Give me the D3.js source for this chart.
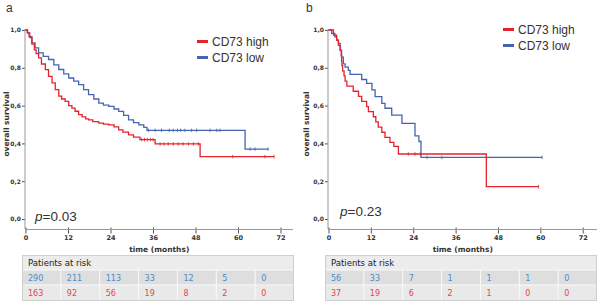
<!DOCTYPE html>
<html>
<head>
<meta charset="utf-8">
<script src="https://cdn.jsdelivr.net/npm/d3@7"></script>
<style>
  body { margin: 0; background: #fff; }
  svg { display: block; }
</style>
</head>
<body>
<script>
var width = 598
var height = 303

var red = "#e5222b"
var blue = "#4466b0"
var redText = "#e8434b"
var blueText = "#4a8cc6"

var monthTicks = [0, 12, 24, 36, 48, 60, 72]
var survivalTicks = [0, 0.2, 0.4, 0.6, 0.8, 1.0]
var groups = ["CD73 high", "CD73 low"]

// panel a - survival steps [month, survival]
var aHigh = [[0,1],[0.5,0.985],[1,0.965],[1.8,0.925],[2.5,0.895],[3,0.875],[3.7,0.853],[4.5,0.82],[5.6,0.79],[6.5,0.755],
    [7.5,0.72],[8.4,0.685],[9.4,0.65],[10.2,0.635],[11.2,0.622],[12.2,0.6],[13.1,0.587],[14,0.57],[15,0.552],[16,0.54],
    [17,0.53],[17.8,0.525],[19,0.515],[20.7,0.507],[22,0.502],[23.5,0.498],[25,0.487],[26.3,0.472],[27.5,0.46],[29.1,0.445],
    [30.5,0.433],[32.3,0.42],[36.6,0.397],[49.3,0.33]]
var aHighEnd = 70.2
var aHighCensor = [32.8, 33.6, 34.4, 35.3, 36, 38, 39.1, 40.3, 41.7, 43.1, 44.5, 46, 47.4, 48.8, 58.5, 67.6, 70.2]

var aLow = [[0,1],[0.6,0.985],[1.2,0.96],[1.8,0.932],[2.7,0.905],[3.7,0.879],[5,0.86],[6.5,0.844],[8,0.815],[9.4,0.791],
    [10.8,0.768],[12.2,0.746],[13.6,0.73],[15,0.711],[16.4,0.685],[17.8,0.658],[19.3,0.635],[20.7,0.613],[22,0.603],[23.5,0.596],
    [25,0.582],[26.3,0.569],[27.7,0.548],[29.1,0.525],[30.5,0.51],[32,0.498],[33.4,0.485],[34.3,0.469],[62,0.37]]
var aLowEnd = 68.6
var aLowCensor = [34.7, 36.6, 38.4, 40.6, 41.7, 42.9, 43.8, 45, 46.9, 48.3, 52.1, 54, 54.9, 63.4, 64.8, 68.5]

// panel b
var bHigh = [[0,1],[1.4,0.973],[2.3,0.946],[2.8,0.919],[3.3,0.892],[3.6,0.865],[3.7,0.838],[3.8,0.811],[4,0.784],[4.4,0.757],
    [4.7,0.73],[5.2,0.703],[7,0.676],[8.5,0.649],[9.4,0.622],[10.8,0.595],[11.3,0.568],[12.7,0.541],[13.4,0.514],[14.1,0.486],
    [15.1,0.459],[16,0.432],[17.4,0.405],[18.5,0.384],[19.8,0.344],[44.7,0.171]]
var bHighEnd = 59.5
var bHighCensor = [22.6, 24.5, 26, 59.5]

var bLow = [[0,1],[0.9,0.982],[1.8,0.964],[2.3,0.946],[2.8,0.929],[3.3,0.893],[3.7,0.857],[4.2,0.821],[4.7,0.804],[5.6,0.786],
    [6.1,0.765],[9.4,0.738],[10.8,0.718],[12.3,0.683],[13.2,0.647],[15.1,0.612],[16,0.586],[17.9,0.55],[20.8,0.506],[24.5,0.44],
    [25.6,0.41],[26.2,0.326]]
var bLowEnd = 60.5
var bLowCensor = [27.9, 32.1, 60.5]

// patients at risk at 0,12,...,72
var aLowRisk = [290, 211, 113, 33, 12, 5, 0]
var aHighRisk = [163, 92, 56, 19, 8, 2, 0]
var bLowRisk = [56, 33, 7, 1, 1, 1, 0]
var bHighRisk = [37, 19, 6, 2, 1, 0, 0]

var svg = d3.select("body")
    .append("svg")
    .attr("width", width)
    .attr("height", height)

var panels = [
    { label: "a", left: 0, x0: 25.5, x72: 280.5, axisEnd: 293, p: "=0.03", pX: 35, pY: 221,
      legX: 197, legY: 41.5, high: aHigh, highEnd: aHighEnd, highC: aHighCensor,
      low: aLow, lowEnd: aLowEnd, lowC: aLowCensor, lowRisk: aLowRisk, highRisk: aHighRisk,
      tableX: 22, tableW: 272 },
    { label: "b", left: 300, x0: 328.5, x72: 582.7, axisEnd: 597, p: "=0.23", pX: 340, pY: 216,
      legX: 503, legY: 29.5, high: bHigh, highEnd: bHighEnd, highC: bHighCensor,
      low: bLow, lowEnd: bLowEnd, lowC: bLowCensor, lowRisk: bLowRisk, highRisk: bHighRisk,
      tableX: 325, tableW: 272 }
]

panels.forEach(drawPanel)

function survivalAt(steps, t) {
    var s = 1
    steps.forEach(function (d) { if (d[0] <= t) s = d[1] })
    return s
}

function drawPanel(p) {
    var g = svg.append("g")
    var axisY = 229
    var yTop = 29

    var xScale = d3.scaleLinear().domain([0, 72]).range([p.x0, p.x72])
    var yScale = d3.scaleLinear().domain([0, 1]).range([219, 30])

    g.append("text")
        .attr("x", p.left + 6)
        .attr("y", 12)
        .style("font-family", "Liberation Sans, Arial, sans-serif")
        .style("font-size", "12px")
        .attr("fill", "#333")
        .text(p.label)

    // y axis
    var yAxis = g.append("g")
        .attr("transform", `translate(${p.x0 - 0.5},0)`)
        .call(d3.axisLeft(yScale)
            .tickValues(survivalTicks)
            .tickSize(3)
            .tickPadding(1)
            .tickFormat(function (d) { return d3.format(".1f")(d).replace(".", ",") }))
    yAxis.select(".domain").remove()
    yAxis.selectAll("line").attr("stroke", "#555")
    yAxis.selectAll("text")
        .style("font-family", "DejaVu Sans, Verdana, sans-serif")
        .style("font-size", "6px")
        .style("font-weight", "bold")
        .attr("fill", "#333")

    g.append("line")
        .attr("x1", p.x0 - 0.5).attr("x2", p.x0 - 0.5)
        .attr("y1", yTop).attr("y2", axisY)
        .attr("stroke", "#999")

    g.append("text")
        .attr("transform", `translate(${p.left + 9},124) rotate(-90)`)
        .attr("text-anchor", "middle")
        .style("font-family", "DejaVu Sans, Verdana, sans-serif")
        .style("font-size", "7.5px")
        .style("font-weight", "bold")
        .attr("fill", "#333")
        .text("overall survival")

    // x axis
    var xAxis = g.append("g")
        .attr("transform", `translate(0,${axisY + 0.5})`)
        .call(d3.axisBottom(xScale)
            .tickValues(monthTicks)
            .tickSize(4)
            .tickPadding(2))
    xAxis.select(".domain").remove()
    xAxis.selectAll("line").attr("stroke", "#555").attr("y1", -2)
    xAxis.selectAll("text")
        .style("font-family", "DejaVu Sans, Verdana, sans-serif")
        .style("font-size", "6.5px")
        .style("font-weight", "bold")
        .attr("fill", "#333")

    g.append("line")
        .attr("x1", p.x0 - 0.5).attr("x2", p.axisEnd)
        .attr("y1", axisY + 0.5).attr("y2", axisY + 0.5)
        .attr("stroke", "#999")

    g.append("text")
        .attr("x", (p.x0 + p.axisEnd) / 2)
        .attr("y", 252)
        .attr("text-anchor", "middle")
        .style("font-family", "DejaVu Sans, Verdana, sans-serif")
        .style("font-size", "7.5px")
        .style("font-weight", "bold")
        .attr("fill", "#333")
        .text("time (months)")

    // curves
    var line = d3.line()
        .x(function (d) { return xScale(d[0]) })
        .y(function (d) { return yScale(d[1]) })
        .curve(d3.curveStepAfter)

    var series = [
        { steps: p.low, end: p.lowEnd, censor: p.lowC, color: blue },
        { steps: p.high, end: p.highEnd, censor: p.highC, color: red }
    ]
    series.forEach(function (s) {
        var pts = s.steps.concat([[s.end, s.steps[s.steps.length - 1][1]]])
        g.append("path")
            .datum(pts)
            .attr("d", line)
            .attr("fill", "none")
            .attr("stroke", s.color)
            .attr("stroke-width", 1.3)

        g.selectAll(null)
            .data(s.censor)
            .enter()
            .append("line")
            .attr("x1", function (d) { return xScale(d) })
            .attr("x2", function (d) { return xScale(d) })
            .attr("y1", function (d) { return yScale(survivalAt(s.steps, d)) - 1.8 })
            .attr("y2", function (d) { return yScale(survivalAt(s.steps, d)) + 1.8 })
            .attr("stroke", s.color)
            .attr("stroke-width", 0.8)
    })

    // legend
    var legendColors = [red, blue]
    groups.forEach(function (name, i) {
        var ly = p.legY + i * 16
        g.append("line")
            .attr("x1", p.legX).attr("x2", p.legX + 11)
            .attr("y1", ly).attr("y2", ly)
            .attr("stroke", legendColors[i])
            .attr("stroke-width", 3)
        g.append("text")
            .attr("x", p.legX + 15)
            .attr("y", ly + 4.5)
            .style("font-family", "Liberation Sans, Arial, sans-serif")
            .style("font-size", "12px")
            .attr("fill", "#333")
            .text(name)
    })

    // p value
    var pt = g.append("text")
        .attr("x", p.pX)
        .attr("y", p.pY)
        .style("font-family", "Liberation Sans, Arial, sans-serif")
        .style("font-size", "13.5px")
        .attr("fill", "#333")
    pt.append("tspan").style("font-style", "italic").text("p")
    pt.append("tspan").text(p.p)

    // patients at risk table
    var tx = p.tableX, tw = p.tableW, cw = tw / 7
    var rowTops = [255, 270, 285], rh = 15
    g.append("rect")
        .attr("x", tx).attr("y", rowTops[0])
        .attr("width", tw).attr("height", rh)
        .attr("fill", "#ececec")
    g.append("rect")
        .attr("x", tx).attr("y", rowTops[1])
        .attr("width", tw).attr("height", rh)
        .attr("fill", "#dedede")
    g.append("rect")
        .attr("x", tx).attr("y", rowTops[2])
        .attr("width", tw).attr("height", rh)
        .attr("fill", "#e9e9e9")
    g.append("text")
        .attr("x", tx + 6)
        .attr("y", rowTops[0] + 10.5)
        .style("font-family", "DejaVu Sans, Verdana, sans-serif")
        .style("font-size", "8.5px")
        .attr("fill", "#222")
        .text("Patients at risk")

    var rows = [{ vals: p.lowRisk, color: blueText }, { vals: p.highRisk, color: redText }]
    rows.forEach(function (r, ri) {
        var top = rowTops[ri + 1]
        g.selectAll(null)
            .data(r.vals)
            .enter()
            .append("text")
            .attr("x", function (d, i) { return tx + i * cw + 6 })
            .attr("y", top + 10.5)
            .style("font-family", "DejaVu Sans, Verdana, sans-serif")
            .style("font-size", "8px")
            .attr("fill", r.color)
            .text(function (d) { return d })
        g.selectAll(null)
            .data(d3.range(1, 7))
            .enter()
            .append("line")
            .attr("x1", function (d) { return tx + d * cw })
            .attr("x2", function (d) { return tx + d * cw })
            .attr("y1", top).attr("y2", top + rh)
            .attr("stroke", "#fafafa")
    })
    rowTops.slice(1).forEach(function (t) {
        g.append("line")
            .attr("x1", tx).attr("x2", tx + tw)
            .attr("y1", t).attr("y2", t)
            .attr("stroke", "#fafafa")
    })
    g.append("rect")
        .attr("x", tx + 0.5).attr("y", rowTops[0] + 0.5)
        .attr("width", tw - 1).attr("height", rh * 3)
        .attr("fill", "none")
        .attr("stroke", "#cfcfcf")
}
</script>
</body>
</html>
